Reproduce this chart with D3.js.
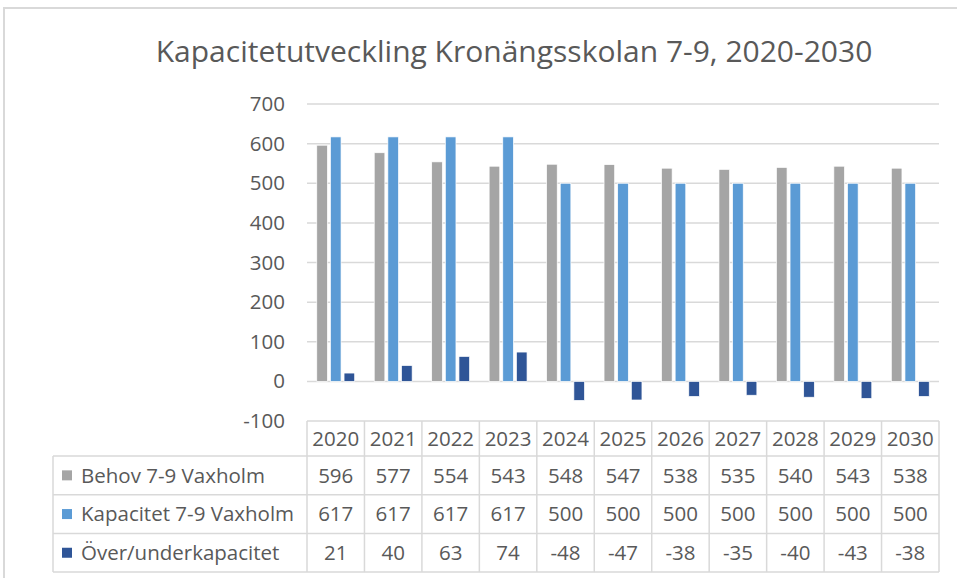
<!DOCTYPE html>
<html>
<head>
<meta charset="utf-8">
<script src="https://cdn.jsdelivr.net/npm/d3@7"></script>
<style>
  body { margin: 0; background: #fff; }
  svg text { font-family: "Open Sans", "Noto Sans", sans-serif; fill: #595959; }
</style>
</head>
<body>
<svg id="chart"></svg>
<script>
const years = ['2020', '2021', '2022', '2023', '2024', '2025', '2026', '2027', '2028', '2029', '2030'];
const seriesNames = ['Behov 7-9 Vaxholm', 'Kapacitet 7-9 Vaxholm', 'Över/underkapacitet'];
const behov = [596, 577, 554, 543, 548, 547, 538, 535, 540, 543, 538];
const kapacitet = [617, 617, 617, 617, 500, 500, 500, 500, 500, 500, 500];
const overUnder = [21, 40, 63, 74, -48, -47, -38, -35, -40, -43, -38];
const yTicks = [-100, 0, 100, 200, 300, 400, 500, 600, 700];
const colors = ['#A5A5A5', '#5B9BD5', '#2F5597'];
const title = 'Kapacitetutveckling  Kronängsskolan 7-9, 2020-2030';

const width = 957, height = 578;
const margin = {top: 104, left: 307, right: 18, bottom: 157};
const plotW = width - margin.left - margin.right;
const fontSize = '20.5px';

const series = [behov, kapacitet, overUnder];
const data = years.map((y, i) => ({year: y, values: series.map((s, k) => ({k, v: s[i]}))}));

const svg = d3.select('#chart')
  .attr('width', width)
  .attr('height', height);

// outer frame
svg.append('rect')
  .attr('x', 4).attr('y', 8)
  .attr('width', 1000).attr('height', 1000)
  .attr('fill', 'none')
  .attr('stroke', '#D9D9D9')
  .attr('stroke-width', 2);

svg.append('text')
  .attr('x', 514).attr('y', 62)
  .attr('text-anchor', 'middle')
  .style('font-size', '30px')
  .text(title);

const chart = svg.append('g')
  .attr('transform', `translate(${margin.left},${margin.top})`);

const x = d3.scaleBand().domain(years).range([0, plotW]).paddingInner(0.34).paddingOuter(0.17);
const xSeries = d3.scaleBand().domain([0, 1, 2]).range([0, x.bandwidth()]).paddingInner(0.22);
const y = d3.scaleLinear().domain([-100, 700]).range([317, 0]);

// gridlines
chart.append('g')
  .selectAll('line')
  .data(yTicks.filter(d => d > -100))
  .join('line')
  .attr('x1', 0).attr('x2', plotW)
  .attr('y1', d => y(d)).attr('y2', d => y(d))
  .attr('stroke', '#D9D9D9')
  .attr('stroke-width', 1.5);

// y axis labels
const yAxis = d3.axisLeft(y).tickValues(yTicks).tickSize(0).tickPadding(22).tickFormat(d => String(d));
chart.append('g')
  .call(yAxis)
  .call(g => g.select('.domain').remove())
  .call(g => g.selectAll('text')
    .style('font-size', fontSize)
    .attr('fill', '#595959')
    .style('font-family', '"Open Sans", "Noto Sans", sans-serif'));

// bars
chart.append('g')
  .selectAll('g')
  .data(data)
  .join('g')
  .attr('transform', d => `translate(${x(d.year)},0)`)
  .selectAll('rect')
  .data(d => d.values)
  .join('rect')
  .attr('x', d => xSeries(d.k))
  .attr('width', xSeries.bandwidth())
  .attr('y', d => y(Math.max(0, d.v)))
  .attr('height', d => Math.abs(y(d.v) - y(0)))
  .attr('fill', d => colors[d.k])
  .attr('stroke', '#fff')
  .attr('stroke-width', 0.7);

// data table
const tableTop = y(-100);
const headerH = 35, rowH = 38.7;
const legendLeft = 53 - margin.left;
const step = x.step();
const colX = i => i * step;
const table = chart.append('g').attr('transform', `translate(0,${tableTop})`);
const border = '#D9D9D9';

// horizontal lines
table.append('line')
  .attr('x1', 0).attr('x2', plotW).attr('y1', 0).attr('y2', 0)
  .attr('stroke', border).attr('stroke-width', 1.5);
d3.range(4).forEach(r => {
  const yy = headerH + r * rowH;
  table.append('line')
    .attr('x1', legendLeft).attr('x2', plotW).attr('y1', yy).attr('y2', yy)
    .attr('stroke', border).attr('stroke-width', 1.5);
});
// vertical lines
d3.range(years.length + 1).forEach(i => {
  table.append('line')
    .attr('x1', colX(i)).attr('x2', colX(i))
    .attr('y1', 0).attr('y2', headerH + 3 * rowH)
    .attr('stroke', border).attr('stroke-width', 1.5);
});
table.append('line')
  .attr('x1', legendLeft).attr('x2', legendLeft)
  .attr('y1', headerH).attr('y2', headerH + 3 * rowH)
  .attr('stroke', border).attr('stroke-width', 1.5);

// header years
table.selectAll('.yr')
  .data(years)
  .join('text')
  .attr('class', 'yr')
  .attr('x', (d, i) => colX(i) + step / 2)
  .attr('y', headerH / 2)
  .attr('dy', '0.36em')
  .attr('text-anchor', 'middle')
  .style('font-size', fontSize)
  .text(d => d);

// rows
seriesNames.forEach((name, r) => {
  const cy = headerH + r * rowH + rowH / 2;
  table.append('rect')
    .attr('x', legendLeft + 9).attr('y', cy - 5)
    .attr('width', 10).attr('height', 10)
    .attr('fill', colors[r]);
  table.append('text')
    .attr('x', legendLeft + 28).attr('y', cy)
    .attr('dy', '0.36em')
    .style('font-size', fontSize)
    .text(name);
  table.selectAll('.v' + r)
    .data(series[r])
    .join('text')
    .attr('class', 'v' + r)
    .attr('x', (d, i) => colX(i) + step / 2)
    .attr('y', cy)
    .attr('dy', '0.36em')
    .attr('text-anchor', 'middle')
    .style('font-size', fontSize)
    .text(d => d);
});
</script>
</body>
</html>
